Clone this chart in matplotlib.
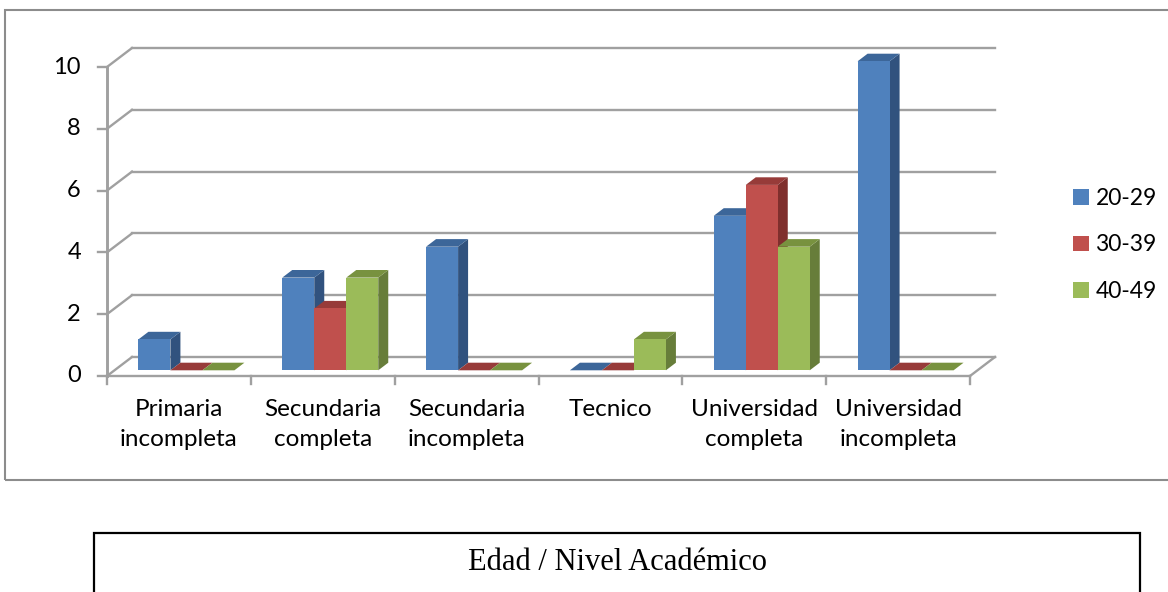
import matplotlib
matplotlib.use('Agg')
import matplotlib.pyplot as plt
from matplotlib.patches import Rectangle, Polygon, Patch

# education level vs. age group counts
categories = ['Primaria\nincompleta', 'Secundaria\ncompleta', 'Secundaria\nincompleta',
              'Tecnico', 'Universidad\ncompleta', 'Universidad\nincompleta']
series = ['20-29', '30-39', '40-49']
v_20_29 = [1, 3, 4, 0, 5, 10]
v_30_39 = [0, 2, 0, 0, 6, 0]
v_40_49 = [0, 3, 0, 1, 4, 0]
y_ticks = [0, 2, 4, 6, 8, 10]
title = 'Edad / Nivel Académico'

values = [v_20_29, v_30_39, v_40_49]
front = ['#4f81bd', '#c0504d', '#9bbb59']
side = ['#31527e', '#7f2f2d', '#677d3a']
top = ['#3c6699', '#973b39', '#78923f']

W, H = 1168, 592
fig = plt.figure(figsize=(W / 100, H / 100), dpi=100)

# plot area: front floor edge spans px 107..970, value 0 at y=376, 10 at y=67
x0, x1, y0, y10 = 107, 970, 376, 67
ax = fig.add_axes([x0 / W, 1 - y0 / H, (x1 - x0) / W, (y0 - y10) / H])
ax.set_xlim(0, 6)
ax.set_ylim(0, 10)
ax.axis('off')

px_x = 6 / (x1 - x0)      # data units per pixel
px_y = 10 / (y0 - y10)
DX, DY = 25 * px_x, 19 * px_y   # depth offset of the back wall
grid_c = '#a0a0a0'
lw = 1.7

# back wall gridlines and left wall diagonals
for v in y_ticks:
    ax.plot([DX, 6 + DX], [v + DY, v + DY], color=grid_c, lw=lw, clip_on=False, zorder=1)
    ax.plot([0, DX], [v, v + DY], color=grid_c, lw=lw, clip_on=False, zorder=1)
    ax.plot([-9 * px_x, 0], [v, v], color=grid_c, lw=lw, clip_on=False, zorder=1)
    ax.text(-26 * px_x, v, str(v), ha='right', va='center', fontsize=17,
            family='Lato', clip_on=False)

# floor edges and axes
ax.plot([0, 6], [0, 0], color=grid_c, lw=lw, clip_on=False, zorder=1)
ax.plot([6, 6 + DX], [0, DY], color=grid_c, lw=lw, clip_on=False, zorder=1)
ax.plot([0, 0], [0, 10], color=grid_c, lw=2.1, clip_on=False, zorder=1)
for i in range(7):
    ax.plot([i, i], [0, -8 * px_y], color=grid_c, lw=lw, clip_on=False, zorder=1)

# 3D style columns
bw = 32 * px_x
gap = (1 - 3 * bw) / 2
z0, bd = 0.3, 0.4
for i in range(len(categories)):
    for j in range(len(series)):
        h = values[j][i]
        x = i + gap + j * bw + z0 * DX
        y = z0 * DY
        ddx, ddy = bd * DX, bd * DY
        ax.add_patch(Polygon([(x + bw, y), (x + bw + ddx, y + ddy), (x + bw + ddx, y + h + ddy),
                              (x + bw, y + h)], closed=True, fc=side[j], ec='none',
                             clip_on=False, zorder=3))
        ax.add_patch(Polygon([(x, y + h), (x + bw, y + h), (x + bw + ddx, y + h + ddy),
                              (x + ddx, y + h + ddy)], closed=True, fc=top[j], ec='none',
                             clip_on=False, zorder=3))
        ax.add_patch(Rectangle((x, y), bw, h, fc=front[j], ec='none', clip_on=False, zorder=3))
    ax.text(i + 0.5, -23 * px_y, categories[i], ha='center', va='top', fontsize=17.5,
            family='Lato', linespacing=1.55, clip_on=False)

handles = [Patch(fc=c, ec='none') for c in front]
fig.legend(handles, series, loc='center left', bbox_to_anchor=(1073 / W, 1 - 245 / H),
           frameon=False, prop={'family': 'Lato', 'size': 16.5},
           handlelength=0.68, handleheight=0.68, handletextpad=0.3,
           labelspacing=1.1, borderpad=0, borderaxespad=0)

# outer chart frame
fig.patches.append(Rectangle((5 / W, 1 - 480 / H), 1.0, (480 - 10) / H, transform=fig.transFigure,
                             fill=False, ec='#8c8c8c', lw=1.5))
# caption box below the chart
fig.patches.append(Rectangle((94 / W, 1 - 600 / H), (1140 - 94) / W, (600 - 533) / H,
                             transform=fig.transFigure, fill=False, ec='black', lw=1.6))
fig.text(617 / W, 1 - 563 / H, title, ha='center', va='center', fontsize=22,
         family='Liberation Serif')

fig.savefig('out.png', dpi=100)
